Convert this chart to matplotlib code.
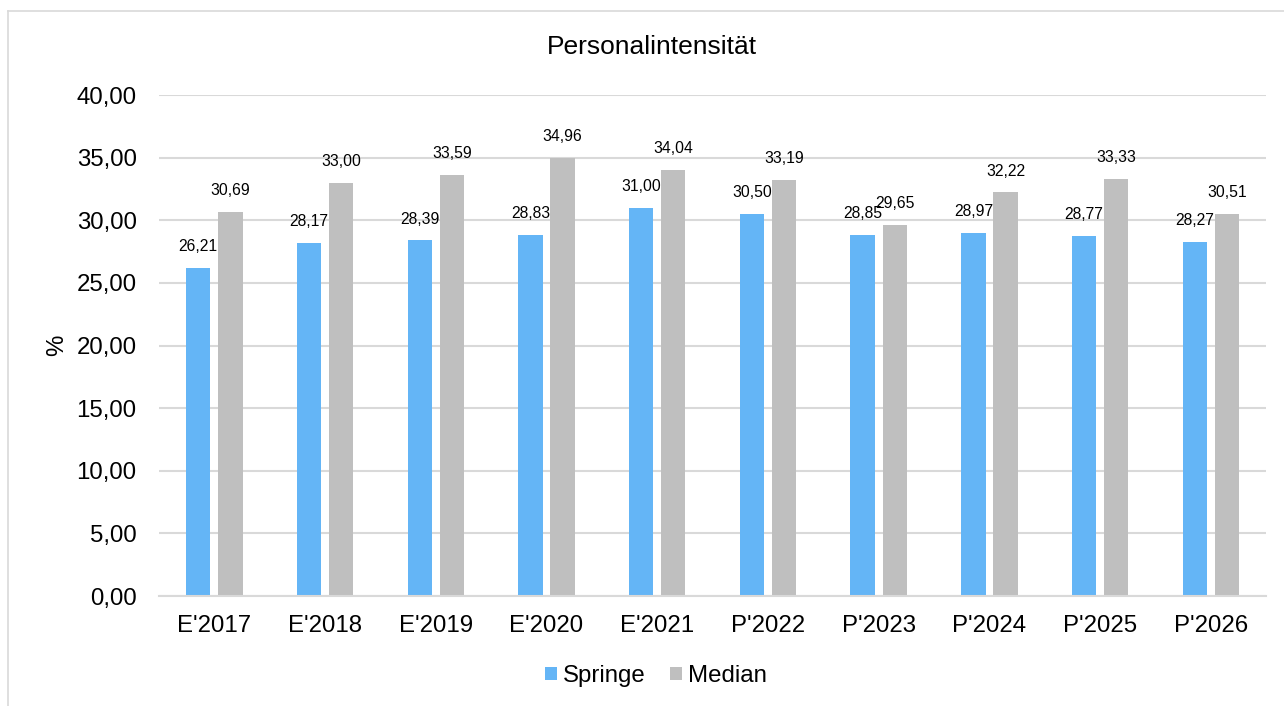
import numpy as np
import matplotlib.pyplot as plt

plt.rcParams['font.family'] = ['Liberation Sans', 'DejaVu Sans']

categories = ["E'2017", "E'2018", "E'2019", "E'2020", "E'2021",
              "P'2022", "P'2023", "P'2024", "P'2025", "P'2026"]
springe = [26.21, 28.17, 28.39, 28.83, 31.00, 30.50, 28.85, 28.97, 28.77, 28.27]
median = [30.69, 33.00, 33.59, 34.96, 34.04, 33.19, 29.65, 32.22, 33.33, 30.51]

blue = '#64B5F6'
gray = '#BFBFBF'

fig = plt.figure(figsize=(12.84, 7.06), dpi=100)
ax = fig.add_axes([0.1238, 0.1558, 0.8624, 0.7096])

x = np.arange(len(categories))
w = 0.22
off = 0.145
b1 = ax.bar(x - off, springe, w, color=blue, label='Springe', zorder=3)
b2 = ax.bar(x + off, median, w, color=gray, label='Median', zorder=3)

def fmt(v):
    return f'{v:.2f}'.replace('.', ',')

for bars, vals in ((b1, springe), (b2, median)):
    for rect, v in zip(bars, vals):
        ax.annotate(fmt(v), (rect.get_x() + rect.get_width() / 2, v),
                    xytext=(0, 10), textcoords='offset points',
                    ha='center', va='bottom', fontsize=11.3, color='#000000', zorder=4)

ax.set_xlim(-0.5, len(categories) - 0.5)
ax.set_ylim(0, 40)
yt = np.arange(0, 40.1, 5)
ax.set_yticks(yt)
ax.set_yticklabels([fmt(v) for v in yt])
ax.set_xticks(x)
ax.set_xticklabels(categories)
ax.tick_params(axis='both', length=0, labelsize=17.3, colors='#000000')
ax.tick_params(axis='y', pad=16)
ax.tick_params(axis='x', pad=14)
ax.grid(axis='y', color='#D9D9D9', linewidth=1.5, zorder=0)
for s in ['top', 'right', 'left']:
    ax.spines[s].set_visible(False)
ax.spines['bottom'].set_color('#D9D9D9')
ax.spines['bottom'].set_linewidth(1.5)
ax.spines['bottom'].set_zorder(5)

ax.set_ylabel('%', fontsize=17.3, labelpad=6)
fig.text(652 / 1284, 1 - 47 / 706, 'Personalintensität', fontsize=19,
         ha='center', va='center')

fig.legend(handles=[b1, b2], loc='center', bbox_to_anchor=(656 / 1284, 1 - 676 / 706),
           ncol=2, frameon=False, fontsize=17.3, handlelength=0.5, handleheight=0.5,
           handletextpad=0.25, columnspacing=1.0)

# outer chart frame (top and left edges)
fig.add_artist(plt.Line2D([8 / 1284, 1], [1 - 11 / 706, 1 - 11 / 706],
                          transform=fig.transFigure, color='#D9D9D9', linewidth=1.2))
fig.add_artist(plt.Line2D([8 / 1284, 8 / 1284], [0, 1 - 11 / 706],
                          transform=fig.transFigure, color='#D9D9D9', linewidth=1.2))

fig.savefig('out.png', dpi=100)
